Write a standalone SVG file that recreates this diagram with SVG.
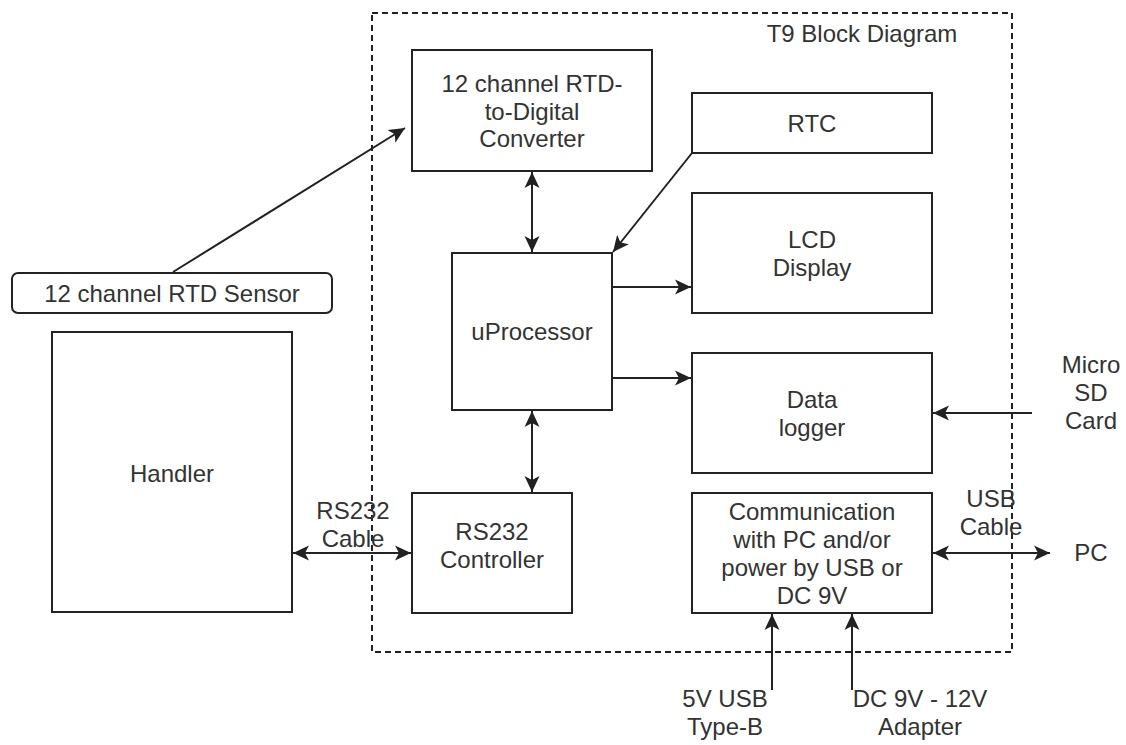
<svg xmlns="http://www.w3.org/2000/svg" width="1126" height="745" viewBox="0 0 1126 745">
<style>
.box{fill:#ffffff;stroke:#222222;stroke-width:2}
.frame{fill:none;stroke:#222222;stroke-width:2;stroke-dasharray:6 4}
.t{font-family:"Liberation Sans",Arial,sans-serif;font-size:24px;fill:#333333;text-anchor:middle}
.c{fill:none;stroke:#222222;stroke-width:2}
.one{marker-end:url(#ah)}
.two{marker-start:url(#ah);marker-end:url(#ah)}
</style>
<defs>
<marker id="ah" markerUnits="userSpaceOnUse" markerWidth="18" markerHeight="16" refX="16" refY="8" orient="auto-start-reverse" viewBox="0 0 18 16">
<path d="M16,8 L0,0.5 L4,8 L0,15.5 Z" fill="#222222"/>
</marker>
</defs>
<rect width="1126" height="745" fill="#ffffff"/>
<g id="frame">
<rect class="frame" x="372" y="13" width="640" height="639"/>
<text class="t" x="862" y="42">T9 Block Diagram</text>
</g>
<g id="connectors">
<line class="c one" x1="173" y1="272" x2="405" y2="128"/>
<line class="c one" x1="692" y1="153" x2="613" y2="252"/>
<line class="c two" x1="532" y1="172" x2="532" y2="252"/>
<line class="c one" x1="612" y1="287" x2="691" y2="287"/>
<line class="c one" x1="612" y1="378" x2="691" y2="378"/>
<line class="c two" x1="532" y1="411" x2="532" y2="492"/>
<line class="c two" x1="293" y1="553" x2="411" y2="553"/>
<line class="c one" x1="1032" y1="413" x2="933" y2="413"/>
<line class="c two" x1="933" y1="553" x2="1050" y2="553"/>
<line class="c one" x1="772" y1="690" x2="772" y2="614"/>
<line class="c one" x1="852" y1="690" x2="852" y2="614"/>
<text class="t" x="353" y="519">RS232</text>
<text class="t" x="353" y="547">Cable</text>
<text class="t" x="991" y="507">USB</text>
<text class="t" x="991" y="535">Cable</text>
</g>
<g id="converter">
<rect class="box" x="412" y="50" width="240" height="121"/>
<text class="t" x="532" y="92">12 channel RTD-</text>
<text class="t" x="532" y="120">to-Digital</text>
<text class="t" x="532" y="147">Converter</text>
</g>
<g id="rtc">
<rect class="box" x="692" y="93" width="240" height="60"/>
<text class="t" x="812" y="132">RTC</text>
</g>
<g id="lcd">
<rect class="box" x="692" y="193" width="240" height="120"/>
<text class="t" x="812" y="248">LCD</text>
<text class="t" x="812" y="276">Display</text>
</g>
<g id="uprocessor">
<rect class="box" x="452" y="253" width="160" height="157"/>
<text class="t" x="532" y="340">uProcessor</text>
</g>
<g id="datalogger">
<rect class="box" x="692" y="353" width="240" height="120"/>
<text class="t" x="812" y="408">Data</text>
<text class="t" x="812" y="436">logger</text>
</g>
<g id="rs232">
<rect class="box" x="412" y="493" width="160" height="120"/>
<text class="t" x="492" y="540">RS232</text>
<text class="t" x="492" y="568">Controller</text>
</g>
<g id="comm">
<rect class="box" x="692" y="493" width="240" height="120"/>
<text class="t" x="812" y="520">Communication</text>
<text class="t" x="812" y="548">with PC and/or</text>
<text class="t" x="812" y="576">power by USB or</text>
<text class="t" x="812" y="604">DC 9V</text>
</g>
<g id="sensor">
<rect class="box" x="12" y="273" width="320" height="40" rx="6" ry="6"/>
<text class="t" x="172" y="302">12 channel RTD Sensor</text>
</g>
<g id="handler">
<rect class="box" x="52" y="332" width="240" height="280"/>
<text class="t" x="172" y="482">Handler</text>
</g>
<g id="microsd">
<text class="t" x="1091" y="373">Micro</text>
<text class="t" x="1091" y="401">SD</text>
<text class="t" x="1091" y="429">Card</text>
</g>
<g id="pc">
<text class="t" x="1091" y="561">PC</text>
</g>
<g id="usb5v">
<text class="t" x="725" y="707">5V USB</text>
<text class="t" x="725" y="735">Type-B</text>
</g>
<g id="dcadapter">
<text class="t" x="920" y="707">DC 9V - 12V</text>
<text class="t" x="920" y="735">Adapter</text>
</g>
</svg>
